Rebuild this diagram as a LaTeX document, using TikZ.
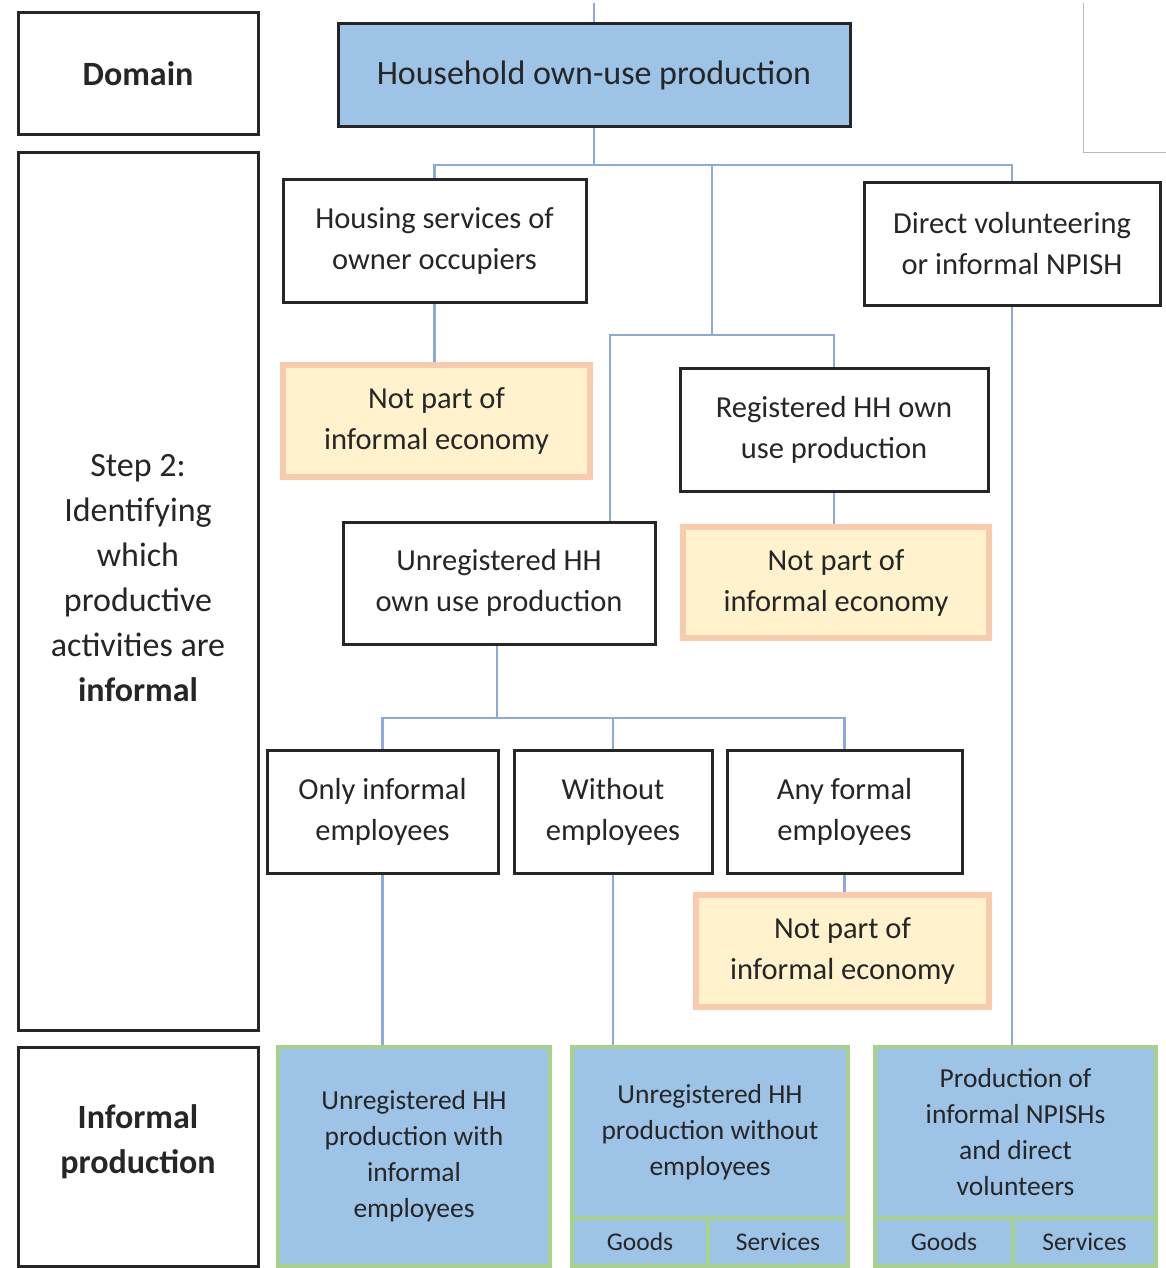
\documentclass[tikz,border=0pt]{standalone}
\usepackage{fontspec}
\setmainfont{Carlito}
\usetikzlibrary{backgrounds}
\definecolor{linkblue}{HTML}{8EAADB}
\definecolor{boxblue}{HTML}{9DC3E6}
\definecolor{notfill}{HTML}{FFF2CC}
\definecolor{notdraw}{HTML}{F8CBAD}
\definecolor{outdraw}{HTML}{A9D18E}
\definecolor{txt}{HTML}{262626}
\tikzset{
  base/.style={align=center, inner sep=0pt, text=txt},
  box/.style={base, draw=black!85, line width=3pt, fill=white, font=\fontsize{30.5}{41}\selectfont},
  sidebox/.style={box, minimum width=240pt},
  sidetext/.style={base, font=\fontsize{34}{45}\selectfont},
  notbox/.style={base, draw=notdraw, line width=6pt, fill=notfill, font=\fontsize{30.5}{41}\selectfont},
  outbox/.style={base, draw=outdraw, line width=4pt, fill=boxblue, font=\fontsize{27.5}{36}\selectfont},
  cellbox/.style={outbox, font=\fontsize{25.5}{28}\selectfont, minimum height=48pt},
  link/.style={draw=linkblue, line width=2.5pt},
}
\begin{document}
\begin{tikzpicture}[x=1pt,y=-1pt]
\useasboundingbox (0,0) rectangle (1166,1268);

% left-hand column
\node[sidebox, minimum height=122pt, font=\fontsize{34}{45}\selectfont] (domain) at (138,74) {\textbf{Domain}};
\node[sidebox, minimum height=877pt] (step) at (138,591.5) {};
\node[sidetext] (steptext) at (138,578)
  {Step 2:\\Identifying\\which\\productive\\activities are\\\textbf{informal}};
\node[sidebox, minimum height=219pt] (infprod) at (138,1156.5) {};
\node[sidetext] (infprodtext) at (138,1142)
  {\textbf{Informal}\\\textbf{production}};

% top of the tree
\node[box, fill=boxblue, minimum width=512pt, minimum height=103pt, font=\fontsize{34}{40}\selectfont] (hh) at (594,75)
  {Household own-use production};
\node[box, minimum width=303pt, minimum height=122pt] (housing) at (434.5,241)
  {Housing services of\\owner occupiers};
\node[box, minimum width=296pt, minimum height=122pt] (direct) at (1012,244)
  {Direct volunteering\\or informal NPISH};
\node[notbox, minimum width=307pt, minimum height=112pt] (np1) at (436.5,421)
  {Not part of\\informal economy};

% registered / unregistered
\node[box, minimum width=308pt, minimum height=123pt] (reg) at (834,429.5)
  {Registered HH own\\use production};
\node[notbox, minimum width=306pt, minimum height=111pt] (np2) at (836,582.5)
  {Not part of\\informal economy};
\node[box, minimum width=312pt, minimum height=122pt] (unreg) at (499,583)
  {Unregistered HH\\own use production};

% employment split
\node[box, minimum width=231pt, minimum height=123pt] (only) at (382.5,811.5)
  {Only informal\\employees};
\node[box, minimum width=198pt, minimum height=123pt] (without) at (613,811.5)
  {Without\\employees};
\node[box, minimum width=235pt, minimum height=123pt] (any) at (844.5,811.5)
  {Any formal\\employees};
\node[notbox, minimum width=293pt, minimum height=112pt] (np3) at (842.5,951)
  {Not part of\\informal economy};

% informal production outcomes
\node[outbox, minimum width=272pt, minimum height=219pt] (b1) at (414,1156.5)
  {Unregistered HH\\production with\\informal\\employees};
\node[outbox, minimum width=276pt, minimum height=171pt] (b2) at (710,1132.5)
  {Unregistered HH\\production without\\employees};
\node[cellbox, minimum width=136pt] (b2g) at (640,1242) {Goods};
\node[cellbox, minimum width=140pt] (b2s) at (778,1242) {Services};
\node[outbox, minimum width=281pt, minimum height=171pt] (b3) at (1015.5,1132.5)
  {Production of\\informal NPISHs\\and direct\\volunteers};
\node[cellbox, minimum width=138pt] (b3g) at (944,1242) {Goods};
\node[cellbox, minimum width=143pt] (b3s) at (1084.5,1242) {Services};

% thin grey frame lines at the top right
\draw[gray!55, line width=1pt] (1083,3) -- (1083,153) -- (1166,153);

% connectors
\coordinate (top) at (594,3);
\coordinate (j1) at (594,165);
\coordinate (j2) at (712,165);
\coordinate (j3) at (712,335);
\coordinate (j4) at (610,335);
\coordinate (j5) at (497,718);
\begin{scope}[on background layer]
  \fill[white] (0,0) rectangle (1166,1268);
  \draw[link] (top) -- (hh.north);
  \draw[link] (hh.south) -- (j1);
  \draw[link] (housing.north) |- (j1) -- (direct.north |- j1) -- (direct.north);
  \draw[link] (j2) -- (j3);
  \draw[link] (reg.north) |- (j4) -- (j4 |- unreg.north);
  \draw[link] (housing.south) -- (housing.south |- np1.north);
  \draw[link] (reg.south) -- (reg.south |- np2.north);
  \draw[link] (unreg.south -| j5) -- (j5);
  \draw[link] (only.north) |- (j5) -| (any.north);
  \draw[link] (without.north) -- (without.north |- j5);
  \draw[link] (any.south) -- (any.south |- np3.north);
  \draw[link] (only.south) -- (only.south |- b1.north);
  \draw[link] (without.south) -- (without.south |- b2.north);
  \draw[link] (direct.south) -- (direct.south |- b3.north);
\end{scope}
\end{tikzpicture}
\end{document}
